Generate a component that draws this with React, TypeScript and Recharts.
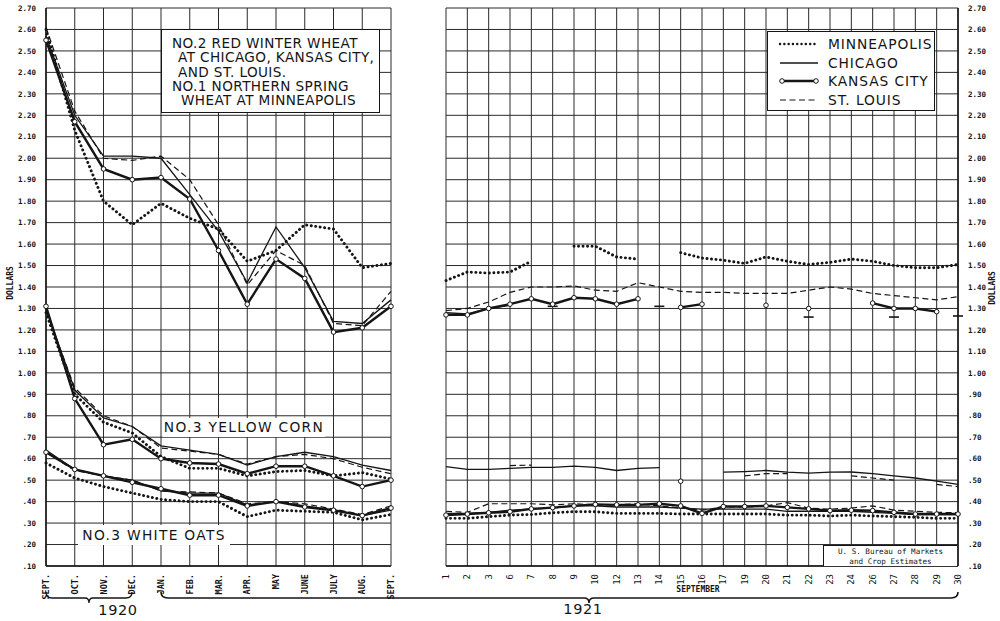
import React from "react";
import { LineChart, Line, XAxis, YAxis, CartesianGrid, Legend } from "recharts";

// left panel: monthly averages Sept 1920 - Sept 1921
const months = ["SEPT.", "OCT.", "NOV.", "DEC.", "JAN.", "FEB.", "MAR.", "APR.", "MAY", "JUNE", "JULY", "AUG.", "SEPT."];

const wheatMin = [2.6, 2.13, 1.8, 1.69, 1.79, 1.72, 1.67, 1.52, 1.57, 1.69, 1.67, 1.49, 1.51];
const wheatChi = [2.57, 2.2, 2.01, 2.01, 2.0, 1.83, 1.66, 1.42, 1.68, 1.49, 1.24, 1.23, 1.34];
const wheatKc = [2.55, 2.17, 1.95, 1.9, 1.91, 1.81, 1.57, 1.32, 1.53, 1.44, 1.19, 1.21, 1.31];
const wheatStl = [2.61, 2.22, 2.0, 1.99, 2.01, 1.9, 1.69, 1.41, 1.57, 1.5, 1.23, 1.22, 1.38];

const cornMin = [1.28, 0.9, 0.77, 0.72, 0.61, 0.555, 0.555, 0.52, 0.54, 0.545, 0.52, 0.535, 0.505];
const cornChi = [1.3, 0.92, 0.79, 0.75, 0.66, 0.64, 0.62, 0.57, 0.61, 0.63, 0.61, 0.57, 0.545];
const cornKc = [1.31, 0.88, 0.665, 0.69, 0.6, 0.58, 0.575, 0.53, 0.565, 0.565, 0.52, 0.47, 0.5];
const cornStl = [1.29, 0.93, 0.8, 0.75, 0.65, 0.635, 0.62, 0.575, 0.61, 0.62, 0.6, 0.56, 0.53];

const oatsMin = [0.58, 0.51, 0.47, 0.44, 0.41, 0.4, 0.4, 0.33, 0.36, 0.355, 0.35, 0.315, 0.34];
const oatsChi = [0.64, 0.55, 0.52, 0.5, 0.45, 0.44, 0.44, 0.385, 0.4, 0.38, 0.36, 0.335, 0.36];
const oatsKc = [0.63, 0.55, 0.52, 0.49, 0.46, 0.43, 0.43, 0.38, 0.4, 0.375, 0.36, 0.335, 0.37];
const oatsStl = [0.63, 0.545, 0.52, 0.5, 0.45, 0.445, 0.44, 0.39, 0.4, 0.39, 0.365, 0.34, 0.38];

// right panel: daily prices, September 1921
const days = ["1", "2", "3", "6", "7", "8", "9", "10", "12", "13", "14", "15", "16", "17", "19", "20", "21", "22", "23", "24", "26", "27", "28", "29", "30"];

const dWheatMin = [1.43, 1.47, 1.465, 1.47, 1.52, null, 1.59, 1.59, 1.54, 1.53, null, 1.56, 1.535, 1.525, 1.51, 1.54, 1.52, 1.505, 1.515, 1.53, 1.52, 1.5, 1.49, 1.49, 1.505];
const dWheatChi = [1.28, 1.275, 1.3, 1.315, null, 1.31, null, null, null, null, 1.31, null, null, null, null, null, null, 1.26, null, null, null, 1.26, null, null, 1.265];
const dWheatKc = [1.27, 1.27, 1.3, 1.32, 1.345, 1.32, 1.35, 1.345, 1.32, 1.345, null, 1.305, 1.32, null, null, 1.315, null, 1.3, null, null, 1.325, 1.3, 1.3, 1.285, null];
const dWheatStl = [1.29, 1.3, 1.33, 1.375, 1.4, 1.4, 1.405, 1.385, 1.38, 1.42, 1.4, 1.38, 1.375, 1.375, 1.37, 1.37, 1.37, 1.385, 1.4, 1.39, 1.37, 1.36, 1.35, 1.34, 1.355];

const dCornMin = days.map(() => null);
const dCornChi = [0.563, 0.55, 0.55, 0.555, 0.56, 0.56, 0.565, 0.56, 0.545, 0.555, 0.558, null, null, 0.537, 0.54, 0.545, 0.537, 0.533, 0.537, 0.538, 0.53, 0.52, 0.51, 0.495, 0.48];
const dCornKc = [null, null, null, null, null, null, null, null, null, null, null, 0.495, null, null, null, null, null, null, null, null, null, null, null, null, null];
const dCornStl = [null, null, null, 0.568, 0.57, null, null, null, null, null, null, null, null, null, 0.52, 0.53, 0.53, null, null, 0.52, 0.51, 0.5, null, 0.48, 0.47];

const dOatsMin = [0.322, 0.322, 0.33, 0.337, 0.34, 0.348, 0.353, 0.353, 0.345, 0.345, 0.345, 0.342, 0.342, 0.342, 0.342, 0.342, 0.337, 0.337, 0.333, 0.337, 0.333, 0.33, 0.327, 0.322, 0.322];
const dOatsChi = [0.345, 0.345, 0.35, 0.36, 0.365, 0.37, 0.38, 0.38, 0.375, 0.375, 0.375, 0.37, 0.365, 0.365, 0.365, 0.365, 0.355, 0.355, 0.355, 0.355, 0.35, 0.345, 0.34, 0.34, 0.34];
const dOatsKc = [0.337, 0.342, 0.348, 0.353, 0.366, 0.372, 0.38, 0.387, 0.385, 0.385, 0.39, 0.38, 0.345, 0.377, 0.377, 0.38, 0.373, 0.366, 0.358, 0.36, 0.358, 0.35, 0.342, 0.342, 0.342];
const dOatsStl = [0.355, 0.35, 0.39, 0.39, 0.39, 0.385, 0.39, 0.385, 0.385, 0.39, 0.38, 0.37, 0.36, 0.375, 0.375, 0.38, 0.395, 0.37, 0.365, 0.37, 0.38, 0.36, 0.355, 0.35, 0.348];

const yTicks = [0.1, 0.2, 0.3, 0.4, 0.5, 0.6, 0.7, 0.8, 0.9, 1.0, 1.1, 1.2, 1.3, 1.4, 1.5, 1.6, 1.7, 1.8, 1.9, 2.0, 2.1, 2.2, 2.3, 2.4, 2.5, 2.6, 2.7];

const cities = [
  { key: "min", name: "MINNEAPOLIS" },
  { key: "chi", name: "CHICAGO" },
  { key: "kc", name: "KANSAS CITY" },
  { key: "stl", name: "ST. LOUIS" },
];

const leftData = months.map((m, i) => ({
  idx: i,
  wheat_min: wheatMin[i], wheat_chi: wheatChi[i], wheat_kc: wheatKc[i], wheat_stl: wheatStl[i],
  corn_min: cornMin[i], corn_chi: cornChi[i], corn_kc: cornKc[i], corn_stl: cornStl[i],
  oats_min: oatsMin[i], oats_chi: oatsChi[i], oats_kc: oatsKc[i], oats_stl: oatsStl[i],
}));

const rightData = days.map((d, i) => ({
  day: d,
  wheat_min: dWheatMin[i], wheat_chi: dWheatChi[i], wheat_kc: dWheatKc[i], wheat_stl: dWheatStl[i],
  corn_min: dCornMin[i], corn_chi: dCornChi[i], corn_kc: dCornKc[i], corn_stl: dCornStl[i],
  oats_min: dOatsMin[i], oats_chi: dOatsChi[i], oats_kc: dOatsKc[i], oats_stl: dOatsStl[i],
}));

const INK = "#151515";
const GRID = "#2a2a2a";
const LETTER = "'DejaVu Sans', sans-serif";
const MONO = "'DejaVu Sans Mono', monospace";

const fmt = (v: number) => (v >= 1 ? v.toFixed(2) : v.toFixed(2).replace(/^0/, ""));

// short dash for a lone point (no neighbour on either side)
function loneDash(data: any[], key: string) {
  return (props: any) => {
    const { cx, cy, index } = props;
    const prev = data[index - 1]?.[key];
    const next = data[index + 1]?.[key];
    if (prev == null && next == null && cx != null && cy != null) {
      return <line key={`d-${key}-${index}`} x1={cx - 5} x2={cx + 5} y1={cy} y2={cy} stroke={INK} strokeWidth={1.6} />;
    }
    return <g key={`d-${key}-${index}`} />;
  };
}

function seriesLines(data: any[]) {
  const out: React.ReactNode[] = [];
  ["wheat", "corn", "oats"].forEach((c) => {
    ["min", "stl", "chi", "kc"].forEach((city) => {
      const key = `${c}_${city}`;
      if (city === "min") {
        out.push(
          <Line key={key} dataKey={key} type="linear" stroke={INK} strokeWidth={2.9} strokeDasharray="0.1 4.4"
            strokeLinecap="round" dot={false} isAnimationActive={false} legendType="none" />
        );
      } else if (city === "stl") {
        out.push(
          <Line key={key} dataKey={key} type="linear" stroke={INK} strokeWidth={1.2} strokeDasharray="6 3.5"
            dot={false} isAnimationActive={false} legendType="none" />
        );
      } else if (city === "chi") {
        out.push(
          <Line key={key} dataKey={key} type="linear" stroke={INK} strokeWidth={1.3}
            dot={loneDash(data, key)} isAnimationActive={false} legendType="none" />
        );
      } else {
        out.push(
          <Line key={key} dataKey={key} type="linear" stroke={INK} strokeWidth={2.4}
            dot={{ r: 2.3, fill: "#fff", stroke: INK, strokeWidth: 1 }} isAnimationActive={false} legendType="none" />
        );
      }
    });
  });
  return out;
}

const MonthTick = ({ x, y, payload }: any) => (
  <text x={x} y={y + 2} transform={`rotate(-90 ${x} ${y + 2})`} textAnchor="end" dy={3}
    fontSize={8.5} fontFamily={MONO} fontWeight="bold" fill={INK}>
    {months[payload.value]}
  </text>
);

const DayTick = ({ x, y, payload }: any) => (
  <text x={x} y={y + 2} transform={`rotate(-90 ${x} ${y + 2})`} textAnchor="end" dy={3}
    fontSize={9} fontFamily={MONO} fill={INK}>
    {payload.value}
  </text>
);

function Swatch({ k }: { k: string }) {
  return (
    <svg width={42} height={10} style={{ display: "block" }}>
      {k === "min" && <line x1={2} x2={40} y1={5} y2={5} stroke={INK} strokeWidth={2.4} strokeDasharray="0.1 4.2" strokeLinecap="round" />}
      {k === "chi" && <line x1={2} x2={40} y1={5} y2={5} stroke={INK} strokeWidth={1.3} />}
      {k === "kc" && (
        <g>
          <line x1={4} x2={38} y1={5} y2={5} stroke={INK} strokeWidth={2.4} />
          <circle cx={4} cy={5} r={2.3} fill="#fff" stroke={INK} />
          <circle cx={38} cy={5} r={2.3} fill="#fff" stroke={INK} />
        </g>
      )}
      {k === "stl" && <line x1={2} x2={40} y1={5} y2={5} stroke={INK} strokeWidth={1.2} strokeDasharray="6 3.5" />}
    </svg>
  );
}

const renderLegend = () => (
  <div style={{ background: "#fff", border: `1px solid ${INK}`, width: 168, height: 80, boxSizing: "border-box", padding: "3px 0 0 10px" }}>
    {cities.map((c) => (
      <div key={c.key} style={{ display: "flex", alignItems: "center", height: 18.5 }}>
        <Swatch k={c.key} />
        <span style={{ marginLeft: 8, fontFamily: LETTER, fontSize: 13.8, letterSpacing: 0.9, color: INK, lineHeight: "14px" }}>{c.name}</span>
      </div>
    ))}
  </div>
);

const boxStyle: React.CSSProperties = {
  position: "absolute",
  background: "#fff",
  fontFamily: LETTER,
  color: INK,
  boxSizing: "border-box",
};

export default function App() {
  return (
    <div style={{ position: "absolute", left: 0, top: 0, width: 1000, height: 621, background: "#fff", overflow: "hidden" }}>
      <div style={{ position: "absolute", left: 0, top: 0 }}>
        <LineChart width={400} height={621} data={leftData} margin={{ top: 8, right: 9, left: 6, bottom: 15 }}>
          <CartesianGrid stroke={GRID} strokeWidth={1} />
          <XAxis dataKey="idx" type="category" scale="point" padding={{ left: 0, right: 0 }} interval={0}
            height={40} tick={<MonthTick />} tickLine={false} tickSize={4} axisLine={{ stroke: INK, strokeWidth: 1.5 }} />
          <YAxis type="number" domain={[0.1, 2.7]} ticks={yTicks} interval={0} width={40} allowDataOverflow
            tickFormatter={fmt} tickLine={false} tickMargin={4}
            tick={{ fontSize: 7.5, fontFamily: MONO, fill: INK, fontWeight: "bold" }}
            axisLine={{ stroke: INK, strokeWidth: 1.5 }} />
          {seriesLines(leftData)}
        </LineChart>
      </div>

      <div style={{ position: "absolute", left: 420, top: 0 }}>
        <LineChart width={580} height={621} data={rightData} margin={{ top: 8, right: 6, left: 26, bottom: 15 }}>
          <CartesianGrid stroke={GRID} strokeWidth={1} />
          <XAxis dataKey="day" type="category" scale="point" padding={{ left: 0, right: 0 }} interval={0}
            height={40} tick={<DayTick />} tickLine={false} tickSize={4} axisLine={{ stroke: INK, strokeWidth: 1.5 }} />
          <YAxis orientation="right" type="number" domain={[0.1, 2.7]} ticks={yTicks} interval={0} width={36} allowDataOverflow
            tickFormatter={fmt} tickLine={false} tickMargin={4}
            tick={{ fontSize: 7.5, fontFamily: MONO, fill: INK, fontWeight: "bold" }}
            axisLine={{ stroke: INK, strokeWidth: 1.5 }} />
          {seriesLines(rightData)}
          <Legend layout="vertical" align="center" verticalAlign="middle" content={renderLegend}
            wrapperStyle={{ left: 347, top: 31, width: 168, height: 80 }} />
        </LineChart>
      </div>

      {/* annotation boxes */}
      <div style={{ ...boxStyle, left: 161, top: 29, width: 219, height: 84, border: `1px solid ${INK}`, padding: "6px 0 0 10px", fontSize: 13.6, letterSpacing: 0.4, lineHeight: "14.3px", whiteSpace: "pre" }}>
        <div>NO.2 RED WINTER WHEAT</div>
        <div style={{ paddingLeft: 6 }}>AT CHICAGO, KANSAS CITY,</div>
        <div style={{ paddingLeft: 6 }}>AND ST. LOUIS.</div>
        <div>NO.1 NORTHERN SPRING</div>
        <div style={{ paddingLeft: 9 }}>WHEAT AT MINNEAPOLIS</div>
      </div>
      <div style={{ ...boxStyle, left: 163, top: 418, width: 162, height: 19, fontSize: 13.8, lineHeight: "19px", textAlign: "center", letterSpacing: 1.3 }}>
        NO.3 YELLOW CORN
      </div>
      <div style={{ ...boxStyle, left: 78, top: 525, width: 152, height: 20, fontSize: 13.8, lineHeight: "20px", textAlign: "center", letterSpacing: 1.3 }}>
        NO.3 WHITE OATS
      </div>
      <div style={{ ...boxStyle, left: 823, top: 545, width: 134, height: 21, borderTop: `1px solid ${INK}`, borderLeft: `1px solid ${INK}`, fontFamily: MONO, fontSize: 7.6, lineHeight: "9.5px", textAlign: "center", paddingTop: 1 }}>
        <div>U. S. Bureau of Markets</div>
        <div>and Crop Estimates</div>
      </div>

      {/* axis titles */}
      <div style={{ position: "absolute", left: 10, top: 283, transform: "translate(-50%, -50%) rotate(-90deg)", fontFamily: MONO, fontSize: 8, fontWeight: "bold", color: INK }}>DOLLARS</div>
      <div style={{ position: "absolute", left: 992, top: 288, transform: "translate(-50%, -50%) rotate(-90deg)", fontFamily: MONO, fontSize: 8, fontWeight: "bold", color: INK }}>DOLLARS</div>
      <div style={{ position: "absolute", left: 698, top: 589, transform: "translate(-50%, -50%)", fontFamily: MONO, fontSize: 8, fontWeight: "bold", color: INK }}>SEPTEMBER</div>

      {/* year braces */}
      <svg width={1000} height={621} style={{ position: "absolute", left: 0, top: 0, pointerEvents: "none" }}>
        <path d="M46 592 Q46 598 52 598 L85 598 Q89 598 89 603 Q89 598 93 598 L126 598 Q132 598 132 592" fill="none" stroke={INK} strokeWidth={1.3} />
        <path d="M161 592 Q161 598 168 598 L584 598 Q589 598 589 603 Q589 598 594 598 L951 598 Q958 598 958 592" fill="none" stroke={INK} strokeWidth={1.6} />
      </svg>
      <div style={{ position: "absolute", left: 118, top: 610, transform: "translate(-50%, -50%)", fontFamily: LETTER, fontSize: 14.5, letterSpacing: 0.6, color: INK }}>1920</div>
      <div style={{ position: "absolute", left: 583, top: 609, transform: "translate(-50%, -50%)", fontFamily: LETTER, fontSize: 14.5, letterSpacing: 0.6, color: INK }}>1921</div>
    </div>
  );
}
